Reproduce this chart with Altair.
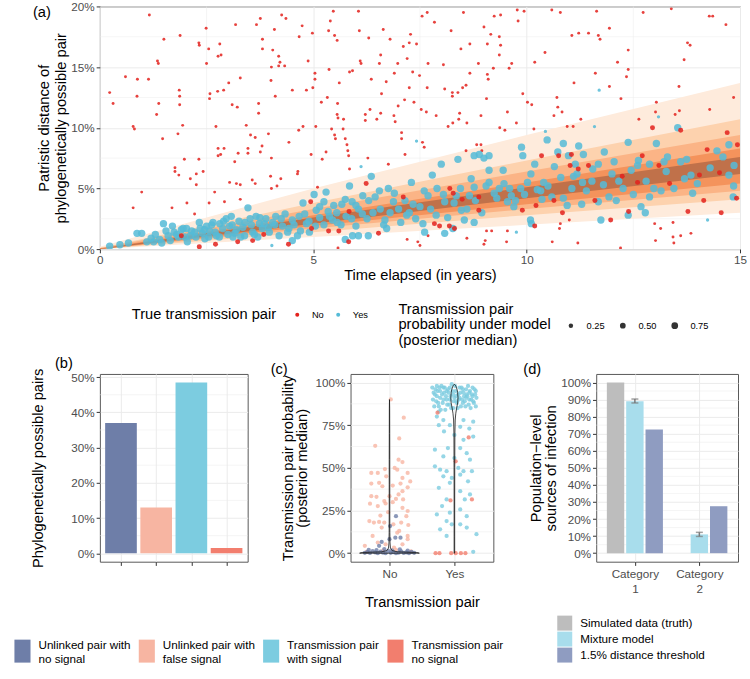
import altair as alt
import pandas as pd

FONT = "Liberation Sans"
TXT = 14.67
LAB = 11.7
GRID = "#EBEBEB"
RED = "#E3211C"
BLUE = "#55BBD7"

# ------------------------------------------------------------------ (a)
a_x_ticks = [0, 5, 10, 15]
a_y_ticks = [0, 5, 10, 15, 20]
a_minor_x = [2.5, 7.5, 12.5]
a_minor_y = [2.5, 7.5, 12.5, 17.5]

band_x = [0, 5, 10, 15]
band1_lo = [0, 1.0, 2.0, 3.0]
band1_hi = [0.2, 5.0, 9.4, 13.7]
band2_lo = [0, 1.4, 2.8, 4.1]
band2_hi = [0.1, 3.8, 7.3, 10.7]
band3_lo = [0, 1.7, 3.3, 4.8]
band3_hi = [0.1, 3.3, 6.4, 9.4]
band4_lo = [0, 1.9, 3.7, 5.4]
band4_hi = [0.05, 2.8, 5.5, 8.3]
band5_lo = [0, 2.1, 4.2, 6.2]
band5_hi = [0.03, 2.6, 5.1, 7.6]
band_colors = ["#FEEBDC", "#FDD2AE", "#FBB486", "#F4935C", "#C0714A"]

# red = not a true transmission pair, small points (low model probability)
red_small = [
    (0.23, 12.9), (0.31, 12.0), (1.16, 19.3), (0.6, 14.2), (0.88, 14.0), (0.87, 12.6),
    (0.78, 10.1), (0.81, 9.9), (0.78, 3.4), (0.98, 4.7), (1.14, 14.0), (1.35, 15.5),
    (1.37, 15.3), (1.38, 12.0), (1.33, 11.1), (1.5, 17.3), (1.47, 9.1), (1.88, 17.6),
    (1.86, 13.1), (1.87, 12.6), (1.87, 11.9), (1.94, 10.2), (1.83, 9.5), (1.98, 7.4),
    (1.76, 6.7), (1.76, 6.4), (1.85, 6.1), (1.69, 3.4), (2.04, 3.8), (2.12, 5.8),
    (2.22, 2.9), (2.26, 5.3), (2.26, 6.2), (2.32, 7.4), (2.32, 17.0), (2.33, 16.8),
    (2.49, 18.2), (2.55, 16.5), (2.5, 15.3), (2.57, 12.4), (2.58, 12.8), (2.42, 6.4),
    (2.56, 3.8), (2.69, 4.7), (2.72, 10.1), (2.77, 8.3), (2.77, 7.7), (2.83, 7.8),
    (2.81, 16.9), (2.84, 16.0), (2.77, 15.9), (2.76, 13.0), (2.9, 13.1), (2.91, 8.3),
    (2.92, 3.9), (3.02, 13.7), (3.04, 5.5), (3.1, 11.9), (3.18, 18.5), (3.2, 5.4),
    (3.22, 11.7), (3.24, 7.9), (3.16, 7.2), (3.29, 14.1), (3.29, 5.3), (3.29, 4.1),
    (3.43, 10.2), (3.47, 8.3), (3.47, 7.9), (3.53, 9.4), (3.64, 9.2), (3.57, 5.7),
    (3.64, 5.4), (3.72, 12.0), (3.72, 11.2), (3.76, 8.0), (3.8, 8.5), (3.67, 18.5),
    (3.76, 19.0), (3.81, 17.3), (3.81, 16.5), (4.0, 6.0), (4.02, 5.0), (4.05, 16.4),
    (4.01, 13.9), (4.02, 15.0), (4.02, 7.5), (3.95, 9.5), (4.19, 15.9), (4.19, 15.1),
    (4.22, 15.4), (4.24, 5.8), (4.15, 5.2), (4.26, 19.3), (4.36, 19.0), (4.11, 12.6),
    (4.09, 18.1), (4.33, 15.1), (4.43, 8.8), (4.51, 13.1), (4.63, 6.2), (4.64, 6.4),
    (4.66, 9.8), (4.67, 17.5), (4.74, 18.4), (4.76, 10.1), (4.84, 13.1), (4.88, 15.5),
    (4.95, 7.8), (4.98, 17.8), (4.99, 13.3), (5.04, 14.5), (5.04, 14.0), (5.06, 10.1),
    (5.1, 5.1), (5.19, 12.1), (5.21, 7.4), (5.3, 8.0), (5.33, 12.5), (5.37, 14.8),
    (5.36, 18.0), (5.4, 18.8), (5.47, 19.6), (5.5, 17.6), (5.56, 17.2), (5.43, 9.9),
    (5.5, 9.4), (5.52, 9.1), (5.56, 11.1), (5.58, 10.8), (5.61, 13.7), (5.57, 12.0),
    (5.71, 10.7), (5.7, 9.9), (5.75, 9.1), (5.79, 8.6), (5.81, 8.1), (5.83, 7.7),
    (5.85, 6.6), (5.85, 14.6), (5.92, 14.7), (6.06, 19.6), (6.08, 18.0), (6.1, 15.5),
    (6.12, 15.3), (6.22, 10.6), (6.22, 11.1), (6.3, 17.4), (6.36, 14.0), (6.33, 11.5),
    (6.28, 7.5), (5.58, 0.1),
    (7.55, 19.2), (7.67, 19.5), (8.52, 19.5), (7.84, 18.7), (6.64, 18.1), (7.28, 17.7),
    (7.25, 17.0), (6.8, 17.3), (7.11, 16.7), (7.42, 16.9), (6.58, 16.0), (6.55, 15.3),
    (6.98, 15.3), (7.2, 15.7), (7.33, 14.6), (6.9, 14.5), (6.71, 13.8), (7.49, 14.3),
    (7.69, 15.3), (8.05, 15.2), (8.23, 18.0), (9.0, 18.3), (9.24, 19.2), (9.39, 19.3),
    (9.78, 19.7), (9.94, 19.6), (9.8, 18.8), (9.16, 17.7), (9.36, 17.5), (9.39, 16.8),
    (8.67, 16.9), (9.08, 16.9), (8.46, 16.5), (8.87, 15.3), (9.36, 16.0), (9.65, 15.3),
    (9.59, 14.9), (9.22, 14.9), (8.67, 14.5), (9.08, 14.4), (9.1, 14.0), (8.58, 13.5),
    (8.5, 13.3), (8.39, 12.9), (8.26, 12.9), (8.26, 12.6), (8.08, 13.2), (7.67, 13.3),
    (7.25, 13.3), (6.6, 12.8), (7.36, 12.1), (7.14, 12.3), (6.99, 11.8), (6.58, 11.2),
    (6.49, 10.7), (6.89, 11.0), (6.92, 10.5), (9.06, 12.4), (8.43, 11.2), (8.41, 10.7),
    (7.53, 11.5), (7.65, 11.3), (7.88, 11.0), (8.93, 11.0), (9.55, 11.3), (8.27, 10.4),
    (8.16, 10.1), (8.6, 10.4), (9.37, 10.0), (9.49, 9.8), (9.76, 10.4), (10.17, 9.9),
    (9.91, 12.8), (10.02, 12.1), (10.12, 11.9), (10.19, 15.4), (10.43, 16.2), (10.59, 19.7),
    (10.79, 19.5), (11.06, 17.6), (11.22, 17.8), (11.45, 17.8), (11.64, 19.6), (11.68, 17.6),
    (11.72, 17.3), (11.94, 18.2), (11.11, 13.7), (10.71, 12.5), (10.73, 11.7), (10.83, 11.3),
    (10.64, 11.0), (11.27, 10.7), (11.09, 10.1), (10.95, 10.1), (11.61, 14.5), (11.94, 13.4),
    (12.21, 12.4), (12.13, 15.4), (12.38, 16.4), (12.38, 14.8), (12.34, 14.2), (12.73, 19.5),
    (13.39, 19.8), (13.69, 15.6), (13.77, 17.0), (13.83, 16.8), (13.57, 13.4), (13.04, 12.1),
    (13.02, 11.3), (12.63, 10.7), (13.48, 11.1), (13.58, 11.4), (14.28, 19.2), (14.36, 19.2),
    (14.67, 18.5), (14.85, 12.5), (14.29, 11.5),
    (6.76, 7.0), (7.07, 9.1), (7.15, 7.8), (7.56, 8.8), (7.6, 8.4), (7.07, 9.6),
    (8.58, 8.1), (8.83, 8.6), (8.93, 8.6), (8.95, 8.1),
    (7.2, 0.8), (7.45, 0.6), (7.5, 0.3), (9.0, 0.4), (9.03, 0.7), (9.06, 1.5),
    (9.18, 1.5), (9.53, 0.6), (10.6, 0.6), (11.2, 0.5), (12.2, 0.1), (13.0, 2.1),
    (13.14, 1.7), (13.43, 2.2), (13.43, 1.0), (13.45, 0.5), (13.02, 0.7), (13.61, 1.1),
    (13.85, 1.3), (10.77, 1.7), (10.79, 2.1), (11.0, 2.4), (9.55, 1.5), (7.69, 1.1),
    (8.6, 0.9),
]
# red points with a moderate model probability (inside the fan)
red_mid = [
    (7.11, 4.3), (8.2, 5.0), (8.28, 4.6), (8.49, 4.1), (8.88, 3.2), (8.88, 4.3),
    (7.84, 2.1), (7.96, 1.9), (8.19, 1.9), (8.31, 1.7), (6.53, 1.3), (10.64, 4.0),
    (10.22, 3.6), (9.9, 3.2), (10.35, 7.7), (10.75, 7.7), (11.05, 7.8), (11.45, 6.9),
    (11.21, 6.6), (10.84, 3.0), (10.19, 1.9), (12.24, 6.0), (12.6, 5.5), (12.71, 7.7),
    (13.1, 6.9), (13.35, 5.4), (12.95, 10.0), (13.61, 9.8), (14.15, 4.0), (14.05, 6.1),
    (14.23, 8.2), (14.52, 6.3), (14.7, 9.6), (14.94, 8.6), (14.92, 4.2), (14.56, 3.0),
    (13.78, 3.1), (12.39, 3.1), (11.97, 2.4), (11.6, 4.0), (11.02, 6.9), (6.24, 5.4),
    (5.84, 3.1), (4.96, 1.7), (5.36, 1.5), (5.6, 1.5), (4.94, 3.9), (3.84, 1.2),
    (3.58, 0.7), (3.23, 0.6), (2.71, 0.4), (2.33, 0.2), (4.42, 0.4), (1.91, 1.1),
    (5.83, 0.6),
]
# blue = true transmission pairs, high model probability
blue_big = [
    (0.23, 0.25), (0.47, 0.36), (0.67, 0.5), (0.87, 1.3), (0.98, 1.3), (1.1, 0.6),
    (1.26, 0.6), (1.4, 0.8), (1.49, 2.1), (1.6, 1.1), (1.74, 1.4), (1.84, 1.0),
    (1.91, 1.6), (2.03, 1.7), (2.12, 1.1), (2.22, 1.4), (2.33, 2.2), (2.4, 1.3),
    (2.5, 1.9), (2.57, 1.5), (2.65, 2.2), (2.73, 1.1), (2.81, 2.1), (2.88, 1.7),
    (2.96, 2.5), (3.04, 1.9), (3.08, 2.7), (3.16, 1.3), (3.26, 2.3), (3.35, 1.8),
    (3.47, 3.4), (3.52, 2.5), (3.58, 1.4), (3.66, 2.7), (3.74, 2.1), (3.81, 1.7),
    (3.89, 2.5), (3.97, 1.4), (4.05, 2.2), (4.12, 2.7), (4.2, 1.1), (4.28, 1.9),
    (4.34, 2.9), (4.43, 1.7), (4.51, 2.4), (4.63, 1.1), (4.67, 2.7), (4.76, 3.8),
    (4.84, 2.1), (4.91, 1.4), (5.02, 4.5), (5.07, 3.2), (5.15, 2.6), (5.25, 3.9),
    (5.3, 4.7), (5.38, 2.7), (5.48, 3.6), (5.56, 2.2), (5.67, 3.7), (5.77, 2.7),
    (5.85, 5.2), (5.91, 3.9), (6.0, 1.9), (6.06, 3.3), (6.16, 4.4), (6.26, 2.5),
    (6.36, 6.0), (6.29, 1.1), (1.99, 1.0), (2.46, 0.85), (3.12, 1.0), (3.39, 1.1),
    (3.7, 1.0), (4.51, 0.7), (5.92, 1.1), (6.06, 1.1), (5.75, 0.8),
    (6.45, 4.3), (6.76, 5.0), (6.57, 3.3), (6.88, 3.9), (6.68, 2.4), (7.0, 3.3),
    (6.72, 1.7), (7.19, 2.8), (7.3, 5.5), (7.34, 3.7), (7.57, 2.1), (7.61, 1.4),
    (7.69, 4.4), (7.79, 6.1), (7.88, 2.8), (8.0, 7.0), (8.08, 3.9), (8.08, 1.3),
    (8.27, 1.7), (8.35, 4.4), (8.39, 7.4), (8.47, 3.2), (8.54, 2.4), (8.66, 4.4),
    (8.77, 5.1), (8.77, 2.2), (8.89, 7.8), (8.77, 7.7), (9.0, 7.5), (9.12, 7.7),
    (9.12, 6.5), (9.12, 5.5), (9.24, 4.6), (9.36, 5.0), (9.47, 5.4), (9.55, 3.9),
    (9.64, 4.4), (9.74, 4.0), (9.86, 5.0), (9.88, 8.4), (9.91, 7.7), (10.02, 5.5),
    (10.09, 2.4), (10.11, 2.1), (10.19, 7.0), (10.33, 4.8), (10.36, 4.1), (10.4, 5.5),
    (10.48, 9.0), (10.59, 4.3), (10.73, 8.0), (10.86, 8.7), (10.86, 4.2), (10.98, 7.7),
    (11.06, 5.0), (11.14, 7.0), (11.18, 6.2), (11.22, 8.5), (11.31, 5.5), (11.29, 3.7),
    (11.33, 7.8), (11.53, 5.6), (11.68, 7.0), (11.68, 3.9), (11.74, 2.4), (11.82, 8.0),
    (11.93, 4.3), (12.05, 7.2), (12.16, 5.6), (12.26, 5.0), (12.38, 8.8), (12.38, 2.8),
    (12.6, 6.9), (12.62, 7.3), (12.68, 3.5), (12.78, 3.0), (12.88, 7.0), (12.88, 4.3),
    (13.04, 8.7), (12.98, 5.0), (13.22, 7.2), (13.27, 6.4), (13.54, 10.0), (13.61, 7.2),
    (13.7, 5.8), (13.85, 6.1), (13.89, 4.6), (14.46, 8.1), (14.74, 8.6), (14.74, 6.1),
    (14.84, 4.3), (14.86, 6.9),
    (1.2, 0.9), (1.3, 1.2), (1.45, 0.5), (1.55, 1.5), (1.65, 0.7), (1.7, 1.9),
    (1.8, 1.2), (1.95, 1.7), (2.05, 0.6), (2.15, 1.5), (2.25, 1.0), (2.35, 1.7),
    (2.45, 1.6), (2.55, 1.0), (2.62, 2.0), (2.7, 1.4), (2.8, 1.0), (2.9, 2.3),
    (3.0, 1.2), (3.1, 2.0), (3.2, 1.6), (3.3, 1.0), (3.4, 2.2), (3.55, 2.0),
    (3.62, 1.2), (3.75, 2.6), (3.85, 2.1), (3.95, 1.8), (4.1, 2.0), (4.25, 2.5),
    (4.4, 1.4), (4.55, 2.0), (4.7, 1.5), (4.8, 2.9), (4.9, 2.3), (5.05, 1.9),
    (5.15, 3.5), (5.25, 2.0), (5.35, 3.1), (5.45, 2.4), (5.55, 3.0), (5.65, 2.0),
    (5.75, 4.1), (5.9, 2.5), (6.0, 3.6), (6.15, 2.9), (6.3, 4.0), (6.4, 3.0),
    (6.55, 4.8), (6.65, 2.0), (6.8, 3.0), (6.9, 4.6), (7.05, 2.2), (7.15, 4.0),
    (7.25, 3.0), (7.4, 2.5), (7.5, 3.5), (7.6, 4.8), (7.75, 3.3), (7.9, 5.0),
    (8.05, 4.5), (8.15, 2.6), (8.3, 3.8), (8.45, 5.0), (8.6, 3.3), (8.7, 5.8),
    (8.8, 4.0), (8.95, 3.0), (9.05, 5.2), (9.3, 4.2), (9.45, 6.5), (9.6, 5.0),
    (9.7, 3.5), (9.95, 4.5), (10.1, 6.2), (10.25, 4.9), (10.5, 5.2), (10.65, 6.8),
    (10.8, 5.9), (10.95, 3.6), (11.1, 6.0), (11.4, 4.8), (11.55, 6.6), (11.8, 5.3),
    (12.0, 6.2), (12.1, 4.0), (12.45, 6.5), (12.5, 4.5), (12.8, 5.6), (13.15, 4.8),
    (13.3, 7.6), (13.45, 5.0), (13.75, 7.4), (14.0, 5.4), (14.3, 6.7), (14.6, 7.6),
    (14.85, 5.2),
]
# blue points with a low model probability
blue_small = [
    (4.03, 0.3), (6.12, 6.8), (9.76, 1.4), (11.7, 13.1), (11.59, 10.1), (13.09, 10.9),
    (7.42, 8.9), (10.44, 9.7), (14.24, 2.4),
]
p_red_small, p_red_mid, p_blue_big, p_blue_small = 0.03, 0.35, 0.93, 0.08

# ------------------------------------------------------------------ (b)
pair_types = ["Unlinked pair with|no signal", "Unlinked pair with|false signal",
              "Transmission pair|with signal", "Transmission pair|no signal"]
pair_colors = ["#6E7EA8", "#F7B5A2", "#7CCCE0", "#F27E6E"]
b_share = [37.0, 13.0, 48.5, 1.5]
b_y_ticks = [0, 10, 20, 30, 40, 50]
b_minor_y = [5, 15, 25, 35, 45]

# ------------------------------------------------------------------ (c)
c_y_ticks = [0, 25, 50, 75, 100]
c_minor_y = [12.5, 37.5, 62.5, 87.5]
c_no_false = [
    (1.02, 90.1), (1.22, 79.4), (1.15, 67.2), (0.78, 62.9), (1.14, 54.8), (1.2, 53.4),
    (0.72, 47), (0.82, 47), (0.93, 49.3), (1.08, 49.9), (1.12, 48.9), (0.95, 45),
    (1.28, 47), (1.2, 44.1), (0.72, 40.8), (0.84, 41.2), (0.89, 39.2), (1.05, 39.6),
    (1.17, 40.8), (1.28, 38.6), (1.2, 36.3), (1.14, 34.4), (0.72, 33.4), (0.8, 33),
    (1.0, 33.4), (1.1, 31.8), (1.21, 31.5), (0.92, 30.5), (1.05, 29.9), (0.94, 29.1),
    (0.82, 27.6), (1.2, 26.6), (1.28, 24.7), (1.26, 21.7), (0.69, 18.8), (0.76, 17.9),
    (0.84, 18.3), (0.92, 17.9), (1.18, 17.9), (1.29, 16.5), (1.06, 16.9), (0.88, 15),
    (0.74, 10.1), (1.28, 8.2), (1.15, 13), (0.82, 6.2), (0.94, 5.2), (1.07, 3.3),
    (1.2, 5.2), (1.28, 10.1), (0.62, 4.3), (0.65, 0.8), (0.9, 1.5), (1.1, 2.0),
    (1.33, 1.0), (0.98, 24), (0.86, 22), (1.12, 12), (0.7, 29), (1.32, 42),
]
c_no_none = [
    (1.1, 21.7), (1.01, 15.9), (1.09, 9.1), (1.17, 9.1), (0.88, 6.6), (0.84, 4.3),
    (1.0, 8.2), (0.62, 0.2), (0.66, 0.8), (0.70, 0.1), (0.74, 1.2), (0.78, 0.4),
    (0.82, 0.0), (0.86, 0.9), (0.90, 0.3), (0.94, 0.0), (0.98, 1.4), (1.02, 0.2),
    (1.06, 0.6), (1.10, 0.0), (1.14, 0.3), (1.18, 1.0), (1.22, 0.1), (1.26, 0.5),
    (1.30, 0.0), (1.34, 0.7), (1.38, 0.2), (0.68, 2.0), (0.8, 1.8), (0.92, 2.4),
    (1.04, 1.6), (1.16, 2.2), (1.28, 1.5),
]
c_yes_signal = [
    (1.66, 97), (1.70, 93), (1.72, 89), (1.74, 95), (1.76, 86), (1.78, 91), (1.80, 98),
    (1.82, 88), (1.84, 94), (1.86, 84), (1.88, 90), (1.90, 96), (1.92, 87), (1.94, 92),
    (1.96, 99), (1.98, 85), (2.00, 91), (2.02, 95), (2.04, 88), (2.06, 93), (2.08, 97),
    (2.10, 86), (2.12, 90), (2.14, 94), (2.16, 89), (2.18, 96), (2.20, 92), (2.22, 87),
    (2.24, 95), (2.26, 90), (2.28, 97), (2.30, 88), (2.32, 93), (2.34, 91),
    (1.67, 90), (1.69, 86), (1.71, 96), (1.73, 92), (1.75, 88), (1.77, 97), (1.79, 84),
    (1.81, 93), (1.83, 90), (1.85, 97), (1.87, 92), (1.89, 87), (1.91, 94), (1.93, 90),
    (1.95, 85), (1.97, 95), (1.99, 89), (2.01, 98), (2.03, 92), (2.05, 85), (2.07, 90),
    (2.09, 94), (2.11, 97), (2.13, 88), (2.15, 92), (2.17, 86), (2.19, 93), (2.21, 98),
    (2.23, 90), (2.25, 85), (2.27, 93), (2.29, 89), (2.31, 96), (2.33, 86),
    (1.68, 94), (1.78, 95), (1.88, 95), (1.98, 93), (2.08, 91), (2.18, 91), (2.28, 92),
    (1.73, 98), (1.83, 97), (1.93, 97), (2.03, 89), (2.13, 96), (2.23, 94), (2.33, 95),
    (1.76, 82.9), (1.73, 80), (1.83, 78), (2.14, 78), (2.29, 77), (1.76, 75), (1.93, 75),
    (2.09, 74), (2.23, 73), (1.84, 71.3), (2.0, 69.3), (2.14, 66.4), (2.29, 68.3),
    (1.7, 60.6), (1.9, 61.6), (2.09, 61.6), (2.19, 58.6), (1.83, 56.7), (2.0, 55.7),
    (2.24, 54.8), (1.7, 50.9), (1.78, 48.9), (1.88, 48), (2.06, 49.9), (2.14, 48),
    (2.27, 48), (1.83, 45), (1.96, 44.1), (2.09, 46), (1.93, 41.2), (2.21, 42.1),
    (1.76, 38.3), (2.09, 36.3), (2.24, 34.4), (1.88, 31.5), (2.16, 31.5), (1.81, 27.6),
    (2.09, 25.6), (1.73, 22.7), (1.93, 23.7), (2.19, 21.7), (1.88, 18.8), (2.09, 16.9),
    (1.78, 14), (1.96, 16.9), (2.19, 15), (2.34, 11.1), (1.88, 10.1), (2.29, 0.8),
]
c_yes_none = [
    (1.74, 82.3), (2.22, 67.8), (2.02, 53.8), (1.94, 30.9), (2.27, 31.5), (1.71, 0),
    (1.77, 0), (1.95, 0), (2.02, 0), (2.1, 0), (2.17, 0),
]
# violin outlines: probability level and half-width of the violin
vio_no_y = [0, 0.4, 0.8, 1.5, 3, 6, 12, 25, 40, 55, 70, 85, 90]
vio_no_w = [0.46, 0.42, 0.12, 0.04, 0.015, 0.008, 0.005, 0.004, 0.004, 0.004, 0.003,
            0.002, 0.0]
vio_yes_y = [0, 10, 30, 50, 70, 78, 82, 85, 88, 91, 94, 96, 98, 99]
vio_yes_w = [0.004, 0.004, 0.004, 0.005, 0.007, 0.012, 0.022, 0.035, 0.05, 0.056, 0.05,
             0.04, 0.022, 0.0]

# ------------------------------------------------------------------ (d)
d_methods = ["Simulated data (truth)", "Mixture model", "1.5% distance threshold"]
d_colors = ["#BDBDBD", "#A8DDEC", "#8F9CC1"]
d_cat1 = [100.0, 89.0, 72.5]
d_cat2 = [0.0, 11.0, 27.5]
d_err_lo = [88.0, 9.8]
d_err_hi = [90.3, 12.2]
d_offsets = [-0.3, 0.0, 0.3]
d_y_ticks = list(range(0, 101, 10))
d_minor_y = list(range(5, 100, 10))

# ================================================================== build
pct = "datum.value + '%'"


def yaxis(values, title, tx, lh=15):
    return alt.Axis(values=values, labelExpr=pct, title=title, titleX=tx, titleY=94,
                    titleAngle=270, titleAlign="center", titleBaseline="middle",
                    titleLineHeight=lh, grid=True)


def panel_title(txt, dx, dy):
    return alt.TitleParams(txt, anchor="start", dx=dx, dy=dy, offset=0, baseline="middle",
                           fontSize=TXT, fontWeight="normal", frame="group")


# ---- (a)
rows = []
for x, y in red_small:
    rows.append({"x": x, "y": y, "p": p_red_small, "pair": "No"})
for x, y in blue_big:
    rows.append({"x": x, "y": y, "p": p_blue_big, "pair": "Yes"})
for x, y in blue_small:
    rows.append({"x": x, "y": y, "p": p_blue_small, "pair": "Yes"})
for x, y in red_mid:
    rows.append({"x": x, "y": y, "p": p_red_mid, "pair": "No"})
df_a = pd.DataFrame(rows)
df_a["o"] = range(len(df_a))

ax_a_x = alt.Axis(values=a_x_ticks, title="Time elapsed (in years)", titleY=26,
                  titleBaseline="middle", grid=True)
ax_a_y = alt.Axis(values=a_y_ticks, labelExpr=pct,
                  title=["Patristic distance of", "phylogenetically possible pair"],
                  titleX=-55, titleY=121.5, titleAngle=270, titleAlign="center",
                  titleBaseline="middle", titleLineHeight=17, grid=True)
sx_a = alt.Scale(domain=[0, 15], nice=False, zero=False)
sy_a = alt.Scale(domain=[0, 20], nice=False, zero=False)

minor_ax = alt.Chart(pd.DataFrame({"x": a_minor_x})).mark_rule(
    color=GRID, strokeWidth=0.5).encode(x=alt.X("x:Q", scale=sx_a, axis=ax_a_x))
minor_ay = alt.Chart(pd.DataFrame({"y": a_minor_y})).mark_rule(
    color=GRID, strokeWidth=0.5).encode(y=alt.Y("y:Q", scale=sy_a, axis=ax_a_y))

bands = []
for lo, hi, col in zip([band1_lo, band2_lo, band3_lo, band4_lo, band5_lo],
                       [band1_hi, band2_hi, band3_hi, band4_hi, band5_hi], band_colors):
    dfb = pd.DataFrame({"x": band_x, "lo": lo, "hi": hi})
    bands.append(alt.Chart(dfb).mark_area(color=col, clip=True).encode(
        x=alt.X("x:Q", scale=sx_a, axis=ax_a_x),
        y=alt.Y("lo:Q", scale=sy_a, axis=ax_a_y),
        y2="hi:Q"))

pts_a = alt.Chart(df_a).mark_circle(opacity=0.85, clip=True).encode(
    x=alt.X("x:Q", scale=sx_a, axis=ax_a_x),
    y=alt.Y("y:Q", scale=sy_a, axis=ax_a_y),
    color=alt.Color("pair:N", scale=alt.Scale(domain=["No", "Yes"], range=[RED, BLUE]),
                    legend=alt.Legend(title="True transmission pair", orient="none",
                                      legendX=32, legendY=304, direction="horizontal",
                                      titleOrient="left", titleAnchor="middle",
                                      titleBaseline="middle", titleFontSize=TXT,
                                      titleFontWeight="normal", labelFontSize=9.3,
                                      symbolType="circle", symbolSize=16,
                                      symbolStrokeWidth=0, symbolOpacity=1,
                                      labelOffset=10, columnPadding=9, titlePadding=16)),
    size=alt.Size("p:Q", scale=alt.Scale(domain=[0, 1], range=[7, 58]),
                  legend=alt.Legend(title=["Transmission pair", "probability under model",
                                           "(posterior median)"],
                                    values=[0.25, 0.5, 0.75], format=".2f", orient="none",
                                    legendX=299, legendY=315, direction="horizontal",
                                    titleOrient="left", titleAnchor="middle",
                                    titleBaseline="middle", titleFontSize=TXT,
                                    titleFontWeight="normal", titleLineHeight=15.5,
                                    labelFontSize=9.3, symbolFillColor="#333333",
                                    symbolStrokeWidth=0, symbolOpacity=1,
                                    labelOffset=11, columnPadding=13, titlePadding=15)),
    order=alt.Order("o:Q"),
)

chart_a = alt.layer(minor_ax, minor_ay, *bands, pts_a).properties(
    width=641, height=243, title=panel_title("(a)", -67, 26))

# ---- (b)
df_b = pd.DataFrame({"pair": pair_types, "val": b_share,
                     "pos": [1, 2, 3, 4]})
df_b["xlo"] = df_b["pos"] - 0.45
df_b["xhi"] = df_b["pos"] + 0.45
df_b["zero"] = 0.0
sx_b = alt.Scale(domain=[0.4, 4.6], nice=False, zero=False)
sy_b = alt.Scale(domain=[-2.4, 50.9], nice=False, zero=False)
ax_b_x = alt.Axis(values=[1, 2, 3, 4], labels=False, title=None, grid=True)
ax_b_y = yaxis(b_y_ticks, "Phylogenetically possible pairs", -61)

b_minor = alt.Chart(pd.DataFrame({"val": b_minor_y})).mark_rule(
    color=GRID, strokeWidth=0.5).encode(y=alt.Y("val:Q", scale=sy_b, axis=ax_b_y))
b_bars = alt.Chart(df_b).mark_rect().encode(
    x=alt.X("xlo:Q", scale=sx_b, axis=ax_b_x), x2="xhi:Q",
    y=alt.Y("val:Q", scale=sy_b, axis=ax_b_y), y2="zero:Q",
    color=alt.Color("pair:N", scale=alt.Scale(domain=pair_types, range=pair_colors),
                    legend=alt.Legend(title=None, orient="none", legendX=-89, legendY=266,
                                      direction="horizontal", columns=4,
                                      symbolType="M-0.7,-1L0.7,-1L0.7,1L-0.7,1Z",
                                      symbolSize=529, symbolStrokeWidth=0,
                                      symbolOpacity=1, labelFontSize=LAB,
                                      labelBaseline="bottom",
                                      labelOffset=4.5, columnPadding=4.5,
                                      labelExpr="split(datum.label, '|')")),
)
chart_b = alt.layer(b_minor, b_bars).properties(
    width=148, height=188, title=panel_title("(b)", -45, 11))

# ---- (c)
crow = []
for grp, pts in [(pair_types[1], c_no_false), (pair_types[0], c_no_none),
                 (pair_types[2], c_yes_signal), (pair_types[3], c_yes_none)]:
    for x, y in pts:
        crow.append({"x": x, "y": y, "pair": grp})
df_c = pd.DataFrame(crow)

vrow = []
for grp, cx, ys, ws in [("No", 1, vio_no_y, vio_no_w), ("Yes", 2, vio_yes_y, vio_yes_w)]:
    k = 0
    for y, w in zip(ys, ws):
        vrow.append({"g": grp, "x": cx - w, "y": y, "k": k}); k += 1
    for y, w in zip(reversed(ys), reversed(ws)):
        vrow.append({"g": grp, "x": cx + w, "y": y, "k": k}); k += 1
    vrow.append({"g": grp, "x": cx - ws[0], "y": ys[0], "k": k})
df_v = pd.DataFrame(vrow)

sx_c = alt.Scale(domain=[0.4, 2.6], nice=False, zero=False)
sy_c = alt.Scale(domain=[-5, 105], nice=False, zero=False)
ax_c_x = alt.Axis(values=[1, 2], labelExpr="datum.value == 1 ? 'No' : 'Yes'",
                  title="Transmission pair", titleY=41, titleBaseline="middle",
                  labelPadding=3, grid=True)
ax_c_y = yaxis(c_y_ticks, ["Transmission pair probability", "(posterior median)"], -62.5,
               lh=14)

c_minor = alt.Chart(pd.DataFrame({"y": c_minor_y})).mark_rule(
    color=GRID, strokeWidth=0.5).encode(y=alt.Y("y:Q", scale=sy_c, axis=ax_c_y))
c_pts = alt.Chart(df_c).mark_circle(size=18, opacity=0.8).encode(
    x=alt.X("x:Q", scale=sx_c, axis=ax_c_x),
    y=alt.Y("y:Q", scale=sy_c, axis=ax_c_y),
    color=alt.Color("pair:N", scale=alt.Scale(domain=pair_types, range=pair_colors),
                    legend=None),
)
c_vio = alt.Chart(df_v).mark_line(color="#1A1A1A", strokeWidth=0.8).encode(
    x=alt.X("x:Q", scale=sx_c, axis=ax_c_x),
    y=alt.Y("y:Q", scale=sy_c, axis=ax_c_y),
    detail="g:N", order="k:Q",
)
chart_c = alt.layer(c_minor, c_pts, c_vio).properties(
    width=143, height=188, title=panel_title("(c)", -80, 11))

# ---- (d)
drow = []
for ci, vals in [(1, d_cat1), (2, d_cat2)]:
    for m, v, off in zip(d_methods, vals, d_offsets):
        drow.append({"m": m, "val": v, "xlo": ci + off - 0.135, "xhi": ci + off + 0.135,
                     "zero": 0.0})
df_d = pd.DataFrame(drow)
df_e = pd.DataFrame({"x": [1 + d_offsets[1], 2 + d_offsets[1]], "lo": d_err_lo,
                     "hi": d_err_hi})
df_caps = pd.DataFrame({"x": [1.0, 1.0, 2.0, 2.0],
                        "val": [d_err_lo[0], d_err_hi[0], d_err_lo[1], d_err_hi[1]]})

sx_d = alt.Scale(domain=[0.4, 2.6], nice=False, zero=False)
sy_d = alt.Scale(domain=[-5, 105], nice=False, zero=False)
ax_d_x = alt.Axis(values=[1, 2], labelExpr="['Category', datum.label]", labelLineHeight=15,
                  title=None, labelPadding=3, grid=True)
ax_d_y = yaxis(d_y_ticks, ["Population\u2212level", "sources of infection"], -60)

d_minor = alt.Chart(pd.DataFrame({"val": d_minor_y})).mark_rule(
    color=GRID, strokeWidth=0.5).encode(y=alt.Y("val:Q", scale=sy_d, axis=ax_d_y))
d_bars = alt.Chart(df_d).mark_rect().encode(
    x=alt.X("xlo:Q", scale=sx_d, axis=ax_d_x), x2="xhi:Q",
    y=alt.Y("val:Q", scale=sy_d, axis=ax_d_y), y2="zero:Q",
    color=alt.Color("m:N", scale=alt.Scale(domain=d_methods, range=d_colors),
                    legend=alt.Legend(title=None, orient="none", legendX=-39, legendY=242,
                                      direction="vertical", symbolType="square",
                                      symbolSize=225, symbolStrokeWidth=0, symbolOpacity=1,
                                      labelFontSize=LAB, labelOffset=8)),
)
d_err = alt.Chart(df_e).mark_rule(color="#7A7A7A", strokeWidth=1.5).encode(
    x=alt.X("x:Q", scale=sx_d, axis=ax_d_x),
    y=alt.Y("lo:Q", scale=sy_d, axis=ax_d_y), y2="hi:Q")
d_caps = alt.Chart(df_caps).mark_tick(color="#7A7A7A", orient="horizontal", size=7,
                                      thickness=1.5).encode(
    x=alt.X("x:Q", scale=sx_d, axis=ax_d_x),
    y=alt.Y("val:Q", scale=sy_d, axis=ax_d_y))
chart_d = alt.layer(d_minor, d_bars, d_err, d_caps).properties(
    width=142, height=188, title=panel_title("(d)", -73, 11))

bottom = alt.hconcat(chart_b, chart_c, chart_d, spacing=103, bounds="flush").resolve_scale(
    color="independent").resolve_legend(color="independent")

chart = alt.vconcat(chart_a, bottom, spacing=125, bounds="flush").resolve_scale(
    color="independent", size="independent").resolve_legend(
    color="independent", size="independent").properties(
    padding={"left": 10, "top": 0, "right": 2, "bottom": 2}, background="white"
).configure(font=FONT).configure_view(stroke="#595959", strokeWidth=1).configure_axis(
    labelFont=FONT, titleFont=FONT, labelFontSize=LAB, titleFontSize=TXT,
    labelColor="#4D4D4D", titleColor="#000000", titleFontWeight="normal",
    tickColor="#333333", tickSize=3.7, domain=False, gridColor=GRID, gridWidth=1,
    labelPadding=2, labelFlush=False
).configure_legend(labelFont=FONT, titleFont=FONT, padding=0, labelColor="#000000",
                   titleColor="#000000", rowPadding=1).configure_title(font=FONT, color="#000000")

chart.save("out.html", embed_options={"renderer": "svg", "actions": False})
